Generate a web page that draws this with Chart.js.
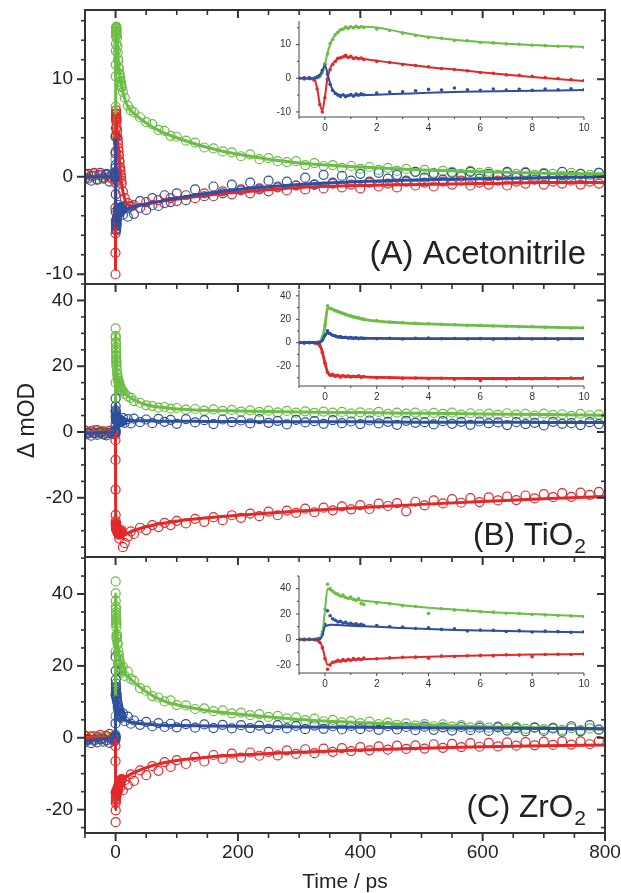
<!DOCTYPE html>
<html>
<head>
<meta charset="utf-8">
<script src="https://cdn.jsdelivr.net/npm/chart.js@4/dist/chart.umd.min.js"></script>
<style>
  body { margin: 0; background: #fff; }
  #wrap { position: relative; width: 621px; height: 893px; }
  #wrap canvas { position: absolute; left: 0; top: 0; }
</style>
</head>
<body>
<div id="wrap">
  <canvas id="mainA" width="621" height="893"></canvas>
  <canvas id="mainB" width="621" height="893"></canvas>
  <canvas id="mainC" width="621" height="893"></canvas>
  <canvas id="insetA" width="621" height="893"></canvas>
  <canvas id="insetB" width="621" height="893"></canvas>
  <canvas id="insetC" width="621" height="893"></canvas>
</div>
<script>
// delay times of the measured points (ps)
const tNeg = [-50, -45, -40, -35, -30, -25, -20, -15, -10, -5, -2];
const tShort = [-1, -0.8, -0.6, -0.4, -0.3, -0.2, -0.1, 0, 0.1, 0.2,
  0.3, 0.4, 0.5, 0.6, 0.7, 0.8, 0.9, 1, 1.1, 1.2,
  1.3, 1.4, 1.5, 2, 2.5, 3, 3.5, 4, 4.5, 5,
  5.5, 6, 6.5, 7, 7.5, 8, 8.5, 9, 9.5, 10];
const tLong = [12, 15, 20, 25, 30, 40, 50, 60, 70, 80, 90, 100,
  115, 130, 145, 160, 175, 190, 205, 220, 235, 250,
  265, 280, 295, 310, 325, 340, 355, 370, 385, 400,
  415, 430, 445, 460, 475, 490, 505, 520, 535, 550,
  565, 580, 595, 610, 625, 640, 655, 670, 685, 700,
  715, 730, 745, 760, 775, 790];
const tData = tNeg.concat(tShort, tLong);

// (A) Acetonitrile, mOD : negative times | -1..10 ps | 12..790 ps
const gA = [0.2, -0.1, 0.1, 0.3, -0.2, 0.1, 0, 0.2, -0.1, 0.1, 0.2,
  0.1, -0.2, 0.1, 0, 0.2, 0.5, 1.8, 4.3, 7.2, 10.3,
  11.5, 12.9, 13.6, 14.4, 14.6, 15.2, 14.8, 15.3, 14.9, 15.4,
  15.0, 15.3, 15.1, 14.6, 14.2, 13.4, 12.7, 12.1, 11.9, 11.2,
  11.1, 10.6, 10.5, 10.2, 10.1, 9.8, 9.7, 9.5, 9.3, 9.2,
  8.7, 8.1, 7.3, 6.8, 6.6, 6.1, 5.6, 5.4, 4.8, 4.7, 4.2, 4.1,
  3.7, 3.5, 3.0, 2.9, 2.6, 2.5, 2.1, 2.3, 1.8, 1.9,
  1.6, 1.5, 1.6, 1.2, 1.4, 1.1, 1.2, 0.9, 1.1, 0.8,
  1.0, 0.7, 0.9, 0.6, 0.8, 0.5, 0.7, 0.4, 0.6, 0.5,
  0.3, 0.6, 0.4, 0.5, 0.2, 0.4, 0.3, 0.5, 0.2, 0.4,
  0.3, 0.1, 0.4, 0.3, 0.2, 0.4];
const rA = [0.3, -0.2, 0.1, 0.4, -0.3, 0.2, -0.1, 0.3, 0, -0.2, 0.1,
  0, 0.2, -0.1, -0.6, -3.2, -7.8, -10.0, -5.8, -0.3, 2.6,
  4.1, 5.0, 5.9, 6.1, 6.4, 6.8, 6.2, 6.5, 5.9, 6.1,
  5.8, 6.0, 5.6, 5.0, 4.7, 4.1, 3.8, 3.4, 2.9, 2.6,
  2.2, 1.7, 1.5, 1.0, 0.9, 0.6, 0.2, -0.1, -0.4, -0.7,
  -1.5, -2.2, -2.7, -3.1, -2.9, -3.2, -2.6, -2.9, -2.4, -2.7, -2.2, -2.5,
  -1.9, -2.2, -1.7, -2.0, -1.5, -1.8, -1.3, -1.7, -1.2, -1.5,
  -1.0, -1.4, -0.9, -1.3, -0.8, -1.2, -0.7, -1.1, -0.8, -1.2,
  -0.6, -1.0, -0.7, -1.1, -0.5, -0.9, -0.6, -1.0, -0.5, -0.8,
  -0.4, -0.9, -0.6, -0.8, -0.4, -0.9, -0.5, -0.7, -0.3, -0.8,
  -0.5, -0.7, -0.4, -0.8, -0.5, -0.7];
const bA = [-0.2, 0.3, -0.4, 0.1, -0.3, 0.4, -0.2, 0.2, -0.5, 0.3, 0.1,
  0, -0.1, 0.2, 0.1, 0.4, 0.9, 2.4, 4.1, 1.2, -1.8,
  -3.6, -4.5, -5.0, -5.4, -4.9, -5.5, -5.1, -4.8, -5.3, -4.7,
  -5.0, -4.6, -4.9, -4.4, -4.1, -4.0, -3.7, -3.3, -3.5, -2.9,
  -3.4, -3.6, -3.2, -3.5, -3.3, -3.6, -3.2, -3.4, -3.1, -3.4,
  -3.9, -3.2, -4.1, -3.0, -3.8, -2.5, -3.4, -2.2, -3.0, -1.9, -2.6, -1.7,
  -2.4, -1.3, -2.0, -1.0, -1.7, -0.8, -1.4, -0.6, -1.3, -0.4,
  -1.1, -0.5, -0.9, -0.1, -0.8, 0.2, -0.6, 0.1, -0.4, 0.3,
  -0.5, 0.4, -0.2, 0.2, -0.4, 0.5, -0.1, 0.3, -0.3, 0.4,
  0, 0.5, -0.2, 0.3, 0.1, 0.5, -0.1, 0.4, 0, 0.3,
  -0.2, 0.5, 0.1, 0.3, -0.1, 0.4];

// (B) TiO2
const gB = [0.5, -0.3, 0.2, 0.6, -0.4, 0.3, 0.1, -0.2, 0.4, 0, 0.2,
  0, 0.3, -0.2, 0.2, 0.4, 0.8, 4.5, 15, 31.5, 29.2,
  28.6, 27.3, 26.9, 25.8, 25.2, 24.3, 23.4, 22.9, 22.1, 21.6,
  21.2, 20.4, 20.1, 18.9, 17.7, 17.3, 16.5, 16.2, 15.6, 15.4,
  14.7, 14.9, 14.2, 14.1, 13.6, 13.8, 13.1, 13.0, 12.6, 12.8,
  12.4, 11.6, 10.8, 10.4, 9.4, 8.9, 8.1, 7.9, 7.4, 7.6, 7.1, 7.3,
  6.8, 7.0, 6.5, 6.9, 6.4, 6.7, 6.2, 6.6, 6.1, 6.5,
  6.0, 6.4, 5.9, 6.3, 5.8, 6.2, 5.9, 6.1, 5.6, 6.0,
  5.7, 6.1, 5.5, 5.9, 5.6, 5.9, 5.4, 5.8, 5.5, 5.9,
  5.3, 5.7, 5.4, 5.6, 5.2, 5.7, 5.3, 5.5, 5.0, 5.6,
  5.2, 5.4, 4.9, 5.5, 5.1, 5.3];
const rB = [0.4, -0.5, 0.3, -0.2, 0.6, -0.3, 0.2, -0.4, 0.3, -0.1, 0,
  0.2, -0.3, 0.1, -0.2, -0.8, -2.5, -8.5, -17.5, -25.2, -27.8,
  -27.1, -28.6, -27.9, -29.4, -28.2, -29.0, -28.4, -29.3, -28.7, -29.1,
  -28.3, -29.6, -28.9, -30.1, -29.7, -30.5, -30.2, -30.8, -30.4, -31.2,
  -30.6, -32.4, -30.7, -31.1, -30.5, -30.9, -30.4, -30.8, -30.3, -29.9,
  -35.0, -33.8, -31.8, -30.2, -31.0, -29.1, -29.8, -28.3, -28.9, -27.6, -28.3, -27.0,
  -27.8, -26.4, -27.3, -25.9, -26.8, -25.3, -26.1, -24.8, -25.6, -24.2,
  -25.3, -23.9, -24.6, -23.3, -24.4, -23.0, -23.8, -22.6, -23.5, -22.2,
  -23.4, -21.8, -22.5, -21.6, -24.1, -21.2, -22.3, -20.8, -21.7, -20.4,
  -21.5, -20.1, -21.3, -19.9, -20.8, -19.6, -20.7, -19.3, -20.2, -18.9,
  -19.8, -18.6, -19.7, -18.4, -19.1, -18.2];
const bB = [-0.8, -0.2, -1.1, -0.4, -0.9, -0.1, -0.7, -1.0, -0.3, -0.6, -0.2,
  0, -0.3, 0.2, -0.1, 0.1, 0.5, 2.5, 6.5, 10.2, 7.9,
  6.4, 5.8, 4.9, 5.2, 4.4, 4.6, 3.9, 4.3, 3.7, 4.1,
  3.5, 3.9, 3.6, 3.4, 3.8, 3.2, 3.7, 3.9, 3.3, 3.6,
  3.1, 3.5, 2.9, 3.4, 3.7, 3.2, 3.5, 3.0, 3.4, 3.3,
  4.2, 2.8, 3.9, 2.6, 4.1, 3.0, 3.8, 2.7, 4.0, 3.1, 3.7, 2.5,
  3.9, 2.9, 3.6, 2.4, 3.8, 3.0, 3.5, 2.6, 3.9, 2.8,
  3.4, 2.3, 3.7, 2.9, 3.3, 2.5, 3.6, 2.7, 3.2, 2.4,
  3.5, 2.6, 3.1, 2.2, 3.4, 2.8, 3.0, 2.3, 3.3, 2.5,
  3.1, 2.2, 3.2, 2.6, 2.9, 2.1, 3.0, 2.4, 2.8, 2.0,
  3.1, 2.5, 2.7, 2.1, 3.0, 2.4];

// (C) ZrO2
const gC = [0.3, -0.4, 0.1, 0.5, -0.2, 0.2, -0.3, 0.4, 0, 0.3, -0.1,
  0, 0.2, -0.2, 0.1, 0.3, 0.9, 6, 24, 43.5, 40.2,
  38.1, 36.5, 35.8, 34.2, 34.9, 33.1, 32.5, 33.4, 31.6, 30.8,
  32.0, 28.4, 27.6, 28.8, 28.1, 26.5, 26.0, 20.5, 24.2, 23.1,
  22.9, 21.8, 21.5, 20.6, 20.4, 19.6, 19.3, 18.9, 18.5, 18.1,
  19.8, 17.2, 18.5, 16.4, 15.9, 13.8, 13.1, 11.6, 11.2, 10.1, 10.4, 9.1,
  9.0, 8.0, 8.2, 7.4, 7.6, 6.8, 7.0, 6.3, 6.6, 5.8,
  6.1, 5.4, 5.7, 4.9, 5.3, 4.6, 5.0, 4.3, 4.7, 4.1,
  4.5, 3.8, 4.2, 3.6, 4.0, 3.4, 3.8, 3.2, 3.7, 3.1,
  3.5, 2.9, 3.4, 2.8, 3.2, 2.6, 3.1, 2.5, 2.9, 2.4,
  2.8, 2.2, 2.7, 2.1, 2.6, 2.2];
const rC = [0.6, -0.3, 0.4, -0.5, 0.2, 0.8, -0.2, 0.5, 1.1, -0.1, 0.3,
  0, -0.2, 0.1, -0.3, -0.7, -2.3, -6.5, -15.2, -23.5, -20.2,
  -18.1, -17.6, -16.5, -17.2, -15.8, -16.9, -15.6, -16.4, -15.1, -16.0,
  -15.3, -15.9, -14.8, -15.3, -14.6, -14.1, -14.0, -14.8, -13.2, -13.4,
  -12.9, -12.6, -12.8, -12.2, -12.4, -13.6, -11.9, -11.7, -11.9, -11.5,
  -14.6, -11.8, -13.1, -10.2, -12.0, -9.1, -10.4, -7.9, -9.2, -6.8, -8.1, -6.2,
  -7.3, -5.3, -6.6, -4.8, -5.9, -4.4, -5.5, -4.1, -5.0, -3.9,
  -4.9, -3.5, -4.5, -3.2, -4.3, -3.0, -3.9, -2.9, -3.7, -2.6,
  -3.5, -2.4, -3.3, -2.2, -3.1, -2.1, -3.0, -1.8, -2.8, -1.7,
  -2.6, -1.5, -2.5, -1.4, -2.4, -1.3, -2.2, -1.2, -2.1, -1.1,
  -2.0, -1.0, -1.9, -1.0, -1.8, -0.9];
const bC = [-1.2, -0.6, -1.5, -0.8, -1.3, -0.4, -1.1, -0.7, -1.4, -0.5, -0.9,
  0, -0.2, 0.1, -0.1, 0.2, 0.6, 4, 12, 22.5, 18.6,
  16.2, 15.1, 13.8, 14.2, 12.9, 13.4, 12.1, 12.7, 11.8, 12.3,
  11.4, 12.0, 11.1, 10.9, 10.2, 9.8, 8.6, 9.1, 7.9, 8.3,
  6.6, 7.4, 7.1, 6.2, 6.9, 5.8, 6.5, 6.1, 5.5, 6.0,
  6.8, 4.6, 5.9, 3.9, 4.8, 3.6, 4.4, 3.2, 4.1, 3.0, 3.9, 2.9,
  3.8, 2.8, 3.7, 2.7, 3.6, 2.6, 3.5, 2.7, 3.4, 2.5,
  3.5, 2.6, 3.3, 2.4, 3.4, 2.5, 3.2, 2.3, 3.3, 2.4,
  3.1, 2.2, 3.2, 2.3, 3.0, 2.1, 3.1, 2.2, 2.9, 2.0,
  3.0, 2.1, 2.8, 1.9, 2.9, 2.0, 2.7, 1.8, 2.8, 1.9,
  2.6, 1.7, 3.2, 1.8, 3.5, 2.3];

// fitted kinetic traces
const tFit = [-50, -1, -0.4, -0.3, -0.2, -0.1, 0, 0.1, 0.2, 0.3,
  0.5, 0.8, 1, 1.5, 2, 3, 4, 5, 6, 8,
  10, 15, 20, 30, 50, 75, 100, 150, 200, 300,
  400, 500, 600, 700, 800];
const gAfit = [0, 0, 0, 0, 0.3, 1.5, 4, 7.5, 10, 11.8,
  13.8, 14.9, 15.2, 15.3, 15.1, 13.6, 12.3, 11.4, 10.8, 9.9,
  9.3, 8.0, 7.2, 6.5, 5.5, 4.6, 4.0, 3.0, 2.3, 1.4,
  1.0, 0.7, 0.5, 0.35, 0.3];
const rAfit = [0, 0, -0.5, -3, -7.5, -9.5, -5.5, 0, 2.8, 4.3,
  5.7, 6.3, 6.2, 5.7, 5.2, 4.2, 3.3, 2.6, 1.8, 0.4,
  -0.8, -2.3, -2.9, -3.0, -2.8, -2.5, -2.3, -1.9, -1.6, -1.1,
  -0.9, -0.8, -0.7, -0.6, -0.6];
const bAfit = [0, 0, 0, 0.2, 0.8, 2.2, 3.8, 1.5, -1.5, -3.5,
  -4.8, -5.1, -5.1, -5.0, -4.9, -4.6, -4.3, -4.1, -3.9, -3.7,
  -3.5, -3.4, -3.3, -3.1, -2.8, -2.5, -2.2, -1.7, -1.3, -0.8,
  -0.5, -0.3, -0.2, -0.1, 0];
const gBfit = [0, 0, 0, 0, 0.5, 4, 14, 29, 29.5, 28.5,
  26.5, 24, 22.5, 20, 18.5, 17, 16, 15.2, 14.6, 13.5,
  12.6, 11.8, 11, 9.8, 8.3, 7.5, 7.0, 6.6, 6.4, 6.1,
  5.9, 5.7, 5.5, 5.3, 5.1];
const rBfit = [0, 0, 0, -0.5, -2, -8, -17, -25, -27.5, -28,
  -28.3, -28.6, -28.8, -29.2, -29.6, -30, -30.3, -30.5, -30.6, -30.6,
  -30.5, -31.2, -30.8, -30, -28.8, -27.8, -27.1, -26.1, -25.3, -24.0,
  -23.0, -22.0, -21.1, -20.3, -19.6];
const bBfit = [-0.5, 0, 0, 0, 0.3, 2, 6, 8.5, 7.5, 6.3,
  5, 4.3, 4, 3.8, 3.6, 3.5, 3.5, 3.5, 3.4, 3.4,
  3.4, 3.4, 3.4, 3.4, 3.4, 3.3, 3.3, 3.2, 3.2, 3.1,
  3.1, 3.0, 3.0, 2.9, 2.9];
const gCfit = [0, 0, 0, 0, 0.5, 5, 22, 40, 39, 37.5,
  35, 33, 32, 30.5, 29.5, 27, 25, 23.5, 22, 20,
  18.2, 17.8, 17, 15.5, 12.8, 10.5, 9.2, 7.6, 6.6, 5.1,
  4.2, 3.6, 3.1, 2.7, 2.4];
const rCfit = [0, 0, 0, -0.5, -2, -6, -14, -20, -19.5, -18.5,
  -17.5, -16.7, -16.3, -15.7, -15.2, -14.3, -13.6, -13, -12.6, -12,
  -11.6, -11.2, -10.6, -9.7, -8.3, -7.1, -6.3, -5.4, -4.8, -4.0,
  -3.4, -2.9, -2.5, -2.2, -2.0];
const bCfit = [-1, 0, 0, 0, 0.3, 3, 10, 11, 11.5, 11.5,
  11.3, 11, 10.8, 10.3, 10, 9, 8.2, 7.5, 7, 6.2,
  5.6, 5, 4.6, 4.2, 3.8, 3.5, 3.4, 3.3, 3.2, 3.0,
  2.9, 2.8, 2.7, 2.6, 2.5];

// tick labels
const xTicks = [0, 200, 400, 600, 800];
const yTicksA = [-10, 0, 10];
const yTicksBC = [-20, 0, 20, 40];
const insetXTicks = [0, 2, 4, 6, 8, 10];
const insetYTicksA = [-10, 0, 10];
const insetYTicksBC = [-20, 0, 20, 40];
const panelNames = ['(A) Acetonitrile', '(B) TiO', '(C) ZrO'];
const panelSubs = ['', '2', '2'];

const FONT = '"Liberation Sans", Arial, Helvetica, sans-serif';
Chart.defaults.font.family = FONT;
Chart.defaults.color = '#222';
const GREEN = '#6cbd45', RED = '#e3282a', BLUE = '#2e4f9f';

function pts(t, v, lo, hi) {
  const out = [];
  for (let i = 0; i < t.length; i++) {
    if (t[i] >= lo && t[i] <= hi) out.push({x: t[i], y: v[i]});
  }
  return out;
}
function fixTicks(list) {
  return s => { s.ticks = list.map(v => ({value: v})); };
}
function seg(ctx, x1, y1, x2, y2) {
  ctx.beginPath(); ctx.moveTo(x1, y1); ctx.lineTo(x2, y2); ctx.stroke();
}

function mainFrame(p) {
  return {
    id: 'mainFrame',
    afterDatasetsDraw(chart) {
      const {ctx, chartArea: a, scales: {x, y}} = chart;
      ctx.save();
      ctx.strokeStyle = '#333';
      for (let v = -50; v <= 800; v += 50) {
        const px = x.getPixelForValue(v);
        const major = v % 200 === 0;
        ctx.lineWidth = major ? 2 : 1.6;
        const len = major ? 8 : 5;
        seg(ctx, px, a.top, px, a.top + len);
        if (p.bottomTicks) seg(ctx, px, a.bottom, px, a.bottom + len);
      }
      for (let v = Math.ceil(y.min / p.yMinor) * p.yMinor; v <= y.max; v += p.yMinor) {
        const py = y.getPixelForValue(v);
        const major = v % p.yMajor === 0;
        ctx.lineWidth = major ? 2 : 1.6;
        const len = major ? 8 : 4;
        seg(ctx, a.left - len, py, a.left, py);
        seg(ctx, a.right - len, py, a.right, py);
      }
      ctx.lineWidth = 2;
      ctx.strokeRect(a.left, a.top, a.right - a.left, a.bottom - a.top);

      // panel name, right aligned in the lower right corner
      ctx.fillStyle = '#222';
      ctx.textBaseline = 'alphabetic';
      let xr = a.right - 19;
      const base = a.bottom - p.nameDy;
      if (p.sub) {
        ctx.font = '21px ' + FONT;
        const w = ctx.measureText(p.sub).width;
        ctx.textAlign = 'left';
        ctx.fillText(p.sub, xr - w, base + 8);
        xr -= w + 1;
      }
      ctx.font = p.nameSize + 'px ' + FONT;
      ctx.textAlign = 'right';
      ctx.fillText(p.name, xr, base);
      ctx.restore();
    }
  };
}

function insetFrame(p) {
  return {
    id: 'insetFrame',
    afterDatasetsDraw(chart) {
      const {ctx, chartArea: a, scales: {x, y}} = chart;
      ctx.save();
      ctx.strokeStyle = '#444';
      ctx.lineWidth = 1;
      seg(ctx, a.left, a.top, a.left, a.bottom);
      seg(ctx, a.left, a.bottom, a.right, a.bottom);
      for (let v = -1; v <= 10; v++) {
        const px = x.getPixelForValue(v);
        seg(ctx, px, a.bottom, px, a.bottom + (v % 2 === 0 ? 3 : 2));
      }
      for (let v = Math.ceil(y.min / p.yMinor) * p.yMinor; v <= y.max; v += p.yMinor) {
        const py = y.getPixelForValue(v);
        seg(ctx, a.left - (v % p.yMajor === 0 ? 3 : 2), py, a.left, py);
      }
      ctx.restore();
    }
  };
}

function datasets(p, lo, hi, inset) {
  const colors = [BLUE, RED, GREEN];
  const sets = [];
  p.fits.forEach((f, i) => sets.push({
    data: pts(tFit, f, lo, hi), showLine: true, borderColor: colors[i],
    borderWidth: inset ? (p.fitWidth || 2) : 3, pointRadius: 0, cubicInterpolationMode: 'monotone'
  }));
  p.series.forEach((s, i) => sets.push(inset ? {
    data: pts(tData, s, lo, hi), borderWidth: 0, pointRadius: 1.8,
    backgroundColor: colors[i], borderColor: colors[i]
  } : {
    data: pts(tData, s, lo, hi), borderWidth: 1.2, pointRadius: 4.5,
    borderColor: colors[i], backgroundColor: 'rgba(0,0,0,0)'
  }));
  return sets;
}

function mainPanel(id, p) {
  const xh = p.showX ? 60 : 0;
  new Chart(document.getElementById(id), {
    type: 'scatter',
    data: {datasets: datasets(p, -50, 800, false)},
    options: {
      responsive: false, animation: false, events: [],
      layout: {padding: {left: 0, right: 16, top: p.top, bottom: 893 - p.bottom - xh}},
      plugins: {legend: {display: false}, tooltip: {enabled: false}},
      scales: {
        x: {
          type: 'linear', min: -50, max: 800,
          afterBuildTicks: fixTicks(xTicks),
          afterFit: s => { s.height = xh; s.paddingLeft = 0; s.paddingRight = 0; },
          grid: {display: false, drawTicks: false}, border: {display: false},
          ticks: {display: p.showX, padding: 8, font: {size: 19}, maxRotation: 0},
          title: {display: p.showX, text: 'Time / ps', font: {size: 21, lineHeight: 1}, padding: 0}
        },
        y: {
          type: 'linear', min: p.yMin, max: p.yMax,
          afterBuildTicks: fixTicks(p.yTicks),
          afterFit: s => { s.width = 85; s.paddingTop = 0; s.paddingBottom = 0; },
          grid: {display: false, drawTicks: false}, border: {display: false},
          ticks: {padding: 12, font: {size: 19}},
          title: {display: !!p.yTitle, text: p.yTitle || '', font: {size: 23}, padding: {top: 14}}
        }
      }
    },
    plugins: [mainFrame(p)]
  });
}

function insetPanel(id, p) {
  new Chart(document.getElementById(id), {
    type: 'scatter',
    data: {datasets: datasets(p, -1, 10, true)},
    options: {
      responsive: false, animation: false, events: [],
      layout: {padding: {left: p.left - 24, right: 621 - p.right, top: p.top, bottom: 893 - p.bottom - 14}},
      plugins: {legend: {display: false}, tooltip: {enabled: false}},
      scales: {
        x: {
          type: 'linear', min: -1, max: 10,
          afterBuildTicks: fixTicks(insetXTicks),
          afterFit: s => { s.height = 14; s.paddingLeft = 0; s.paddingRight = 0; },
          grid: {display: false, drawTicks: false}, border: {display: false},
          ticks: {padding: 5, font: {size: 10}, color: '#333', maxRotation: 0}
        },
        y: {
          type: 'linear', min: p.yMin, max: p.yMax,
          afterBuildTicks: fixTicks(p.yTicks),
          afterFit: s => { s.width = 24; s.paddingTop = 0; s.paddingBottom = 0; },
          grid: {display: false, drawTicks: false}, border: {display: false},
          ticks: {padding: 8, font: {size: 10}, color: '#333'}
        }
      }
    },
    plugins: [insetFrame(p)]
  });
}

mainPanel('mainA', {top: 10, bottom: 284, yMin: -11, yMax: 17.1, yTicks: yTicksA, yMajor: 10, yMinor: 2,
  series: [bA, rA, gA], fits: [bAfit, rAfit, gAfit], name: panelNames[0], sub: panelSubs[0],
  nameDy: 20, nameSize: 33});
mainPanel('mainB', {top: 284, bottom: 557, yMin: -38, yMax: 45, yTicks: yTicksBC, yMajor: 20, yMinor: 5,
  series: [bB, rB, gB], fits: [bBfit, rBfit, gBfit], name: panelNames[1], sub: panelSubs[1],
  nameDy: 12, nameSize: 31.5, yTitle: 'Δ mOD'});
mainPanel('mainC', {top: 557, bottom: 833, yMin: -26.5, yMax: 50.3, yTicks: yTicksBC, yMajor: 20, yMinor: 5,
  series: [bC, rC, gC], fits: [bCfit, rCfit, gCfit], name: panelNames[2], sub: panelSubs[2],
  nameDy: 16, nameSize: 31.5, showX: true, bottomTicks: true});

insetPanel('insetA', {left: 299, right: 584, top: 21, bottom: 117, yMin: -11.5, yMax: 17, yTicks: insetYTicksA,
  yMajor: 10, yMinor: 5, series: [bA, rA, gA], fits: [bAfit, rAfit, gAfit]});
insetPanel('insetB', {left: 299, right: 584, top: 290, bottom: 386, yMin: -37, yMax: 45, yTicks: insetYTicksBC,
  yMajor: 20, yMinor: 10, series: [bB, rB, gB], fits: [bBfit, rBfit, gBfit], fitWidth: 2.8});
insetPanel('insetC', {left: 299, right: 584, top: 576, bottom: 673, yMin: -26.5, yMax: 50, yTicks: insetYTicksBC,
  yMajor: 20, yMinor: 10, series: [bC, rC, gC], fits: [bCfit, rCfit, gCfit]});
</script>
</body>
</html>
